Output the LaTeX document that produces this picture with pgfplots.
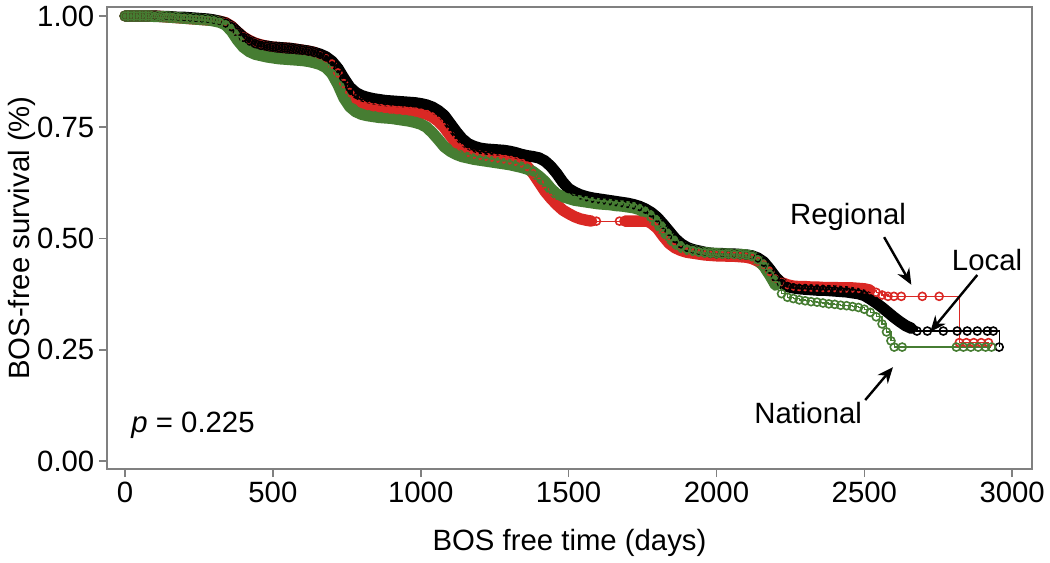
\documentclass[border=0pt]{standalone}
\usepackage{pgfplots}
\pgfplotsset{compat=1.18}
\usepackage{pgfplotstable}
\usetikzlibrary{arrows.meta}
\usepackage{fontspec}
\setmainfont{Liberation Sans}
\definecolor{kmred}{RGB}{218,40,36}
\definecolor{kmgreen}{RGB}{70,125,50}
\definecolor{axgray}{RGB}{128,128,128}

\pgfplotstableread[row sep=\\]{
x y\\
0 1.000\\ 20 1.000\\ 40 1.000\\ 60 1.000\\ 80 1.000\\ 100 1.000\\ 120 0.999\\ 140 0.999\\ 160 0.998\\ 180 0.997\\
200 0.997\\ 220 0.996\\ 240 0.995\\ 260 0.994\\ 280 0.993\\ 300 0.991\\ 320 0.988\\ 340 0.984\\ 360 0.976\\ 380 0.964\\
400 0.952\\ 420 0.944\\ 440 0.938\\ 460 0.934\\ 480 0.932\\ 500 0.930\\ 520 0.929\\ 540 0.928\\ 560 0.927\\ 580 0.925\\
600 0.923\\ 620 0.921\\ 640 0.918\\ 660 0.914\\ 680 0.908\\ 700 0.898\\ 720 0.882\\ 740 0.860\\ 760 0.840\\ 780 0.828\\
800 0.821\\ 820 0.817\\ 840 0.814\\ 860 0.812\\ 880 0.810\\ 900 0.809\\ 920 0.808\\ 940 0.807\\ 960 0.806\\ 980 0.805\\
1000 0.803\\ 1020 0.800\\ 1040 0.795\\ 1060 0.787\\ 1080 0.776\\ 1100 0.758\\ 1120 0.740\\ 1140 0.724\\ 1160 0.713\\ 1180 0.707\\
1200 0.703\\ 1220 0.701\\ 1240 0.700\\ 1260 0.699\\ 1280 0.698\\ 1300 0.696\\ 1320 0.693\\ 1340 0.689\\ 1360 0.686\\ 1380 0.684\\
1400 0.681\\ 1420 0.674\\ 1440 0.662\\ 1460 0.646\\ 1480 0.627\\ 1500 0.612\\ 1520 0.604\\ 1540 0.598\\ 1560 0.594\\ 1580 0.591\\
1600 0.589\\ 1620 0.587\\ 1640 0.585\\ 1660 0.583\\ 1680 0.581\\ 1700 0.579\\ 1720 0.576\\ 1740 0.572\\ 1760 0.566\\ 1780 0.558\\
1800 0.547\\ 1820 0.532\\ 1840 0.516\\ 1860 0.500\\ 1880 0.488\\ 1900 0.480\\ 1920 0.475\\ 1940 0.472\\ 1960 0.469\\ 1980 0.467\\
2000 0.466\\ 2020 0.466\\ 2040 0.465\\ 2060 0.465\\ 2080 0.464\\ 2100 0.463\\ 2120 0.461\\ 2140 0.456\\ 2160 0.447\\ 2180 0.431\\
2200 0.413\\ 2220 0.399\\ 2240 0.392\\ 2260 0.389\\ 2280 0.387\\ 2300 0.386\\ 2320 0.385\\ 2340 0.384\\ 2360 0.384\\ 2380 0.383\\
2400 0.382\\ 2420 0.381\\ 2440 0.380\\ 2460 0.378\\ 2480 0.376\\ 2500 0.372\\ 2520 0.364\\ 2540 0.355\\ 2560 0.345\\ 2580 0.334\\
2600 0.323\\ 2620 0.313\\ 2640 0.304\\ 2660 0.298\\ 2678 0.292\\ 2713 0.292\\ 2767 0.292\\ 2814 0.292\\ 2848 0.292\\ 2882 0.292\\
2916 0.292\\ 2936 0.292\\ 2956 0.256\\
}\localdata

\pgfplotstableread[row sep=\\]{
x y\\
0 1.000\\ 20 1.000\\ 40 1.000\\ 60 1.000\\ 80 1.000\\ 100 1.000\\ 120 0.999\\ 140 0.998\\ 160 0.997\\ 180 0.996\\
200 0.995\\ 220 0.994\\ 240 0.993\\ 260 0.992\\ 280 0.991\\ 300 0.990\\ 320 0.988\\ 340 0.985\\ 360 0.977\\ 380 0.964\\
400 0.953\\ 420 0.945\\ 440 0.939\\ 460 0.935\\ 480 0.932\\ 500 0.930\\ 520 0.929\\ 540 0.928\\ 560 0.927\\ 580 0.925\\
600 0.923\\ 620 0.921\\ 640 0.918\\ 660 0.913\\ 680 0.906\\ 700 0.892\\ 720 0.872\\ 740 0.848\\ 760 0.828\\ 780 0.813\\
800 0.804\\ 820 0.799\\ 840 0.796\\ 860 0.794\\ 880 0.792\\ 900 0.790\\ 920 0.789\\ 940 0.788\\ 960 0.787\\ 980 0.785\\
1000 0.782\\ 1020 0.779\\ 1040 0.773\\ 1060 0.763\\ 1080 0.749\\ 1100 0.731\\ 1120 0.713\\ 1140 0.701\\ 1160 0.694\\ 1180 0.690\\
1200 0.687\\ 1220 0.685\\ 1240 0.683\\ 1260 0.681\\ 1280 0.679\\ 1300 0.677\\ 1320 0.674\\ 1340 0.670\\ 1360 0.662\\ 1380 0.646\\
1400 0.626\\ 1420 0.606\\ 1440 0.590\\ 1460 0.576\\ 1480 0.564\\ 1500 0.556\\ 1520 0.549\\ 1540 0.544\\ 1560 0.541\\ 1578 0.539\\
1594 0.539\\ 1672 0.539\\ 1690 0.539\\ 1705 0.539\\ 1720 0.539\\ 1735 0.539\\ 1750 0.539\\ 1765 0.539\\ 1780 0.534\\
1800 0.523\\ 1820 0.505\\ 1840 0.489\\ 1860 0.479\\ 1880 0.473\\ 1900 0.469\\ 1920 0.467\\ 1940 0.465\\ 1960 0.463\\ 1980 0.462\\
2000 0.461\\ 2020 0.461\\ 2040 0.460\\ 2060 0.460\\ 2080 0.459\\ 2100 0.458\\ 2120 0.455\\ 2140 0.449\\ 2160 0.440\\ 2180 0.426\\
2200 0.411\\ 2220 0.401\\ 2240 0.396\\ 2260 0.393\\ 2280 0.392\\ 2300 0.392\\ 2320 0.391\\ 2340 0.391\\ 2360 0.390\\ 2380 0.390\\
2400 0.390\\ 2420 0.389\\ 2440 0.389\\ 2460 0.389\\ 2480 0.388\\ 2500 0.387\\ 2520 0.384\\ 2540 0.379\\ 2560 0.373\\ 2580 0.370\\
2600 0.370\\ 2625 0.370\\ 2696 0.370\\ 2753 0.370\\ 2821 0.266\\ 2845 0.266\\ 2870 0.266\\ 2895 0.266\\ 2920 0.266\\
}\regionaldata

\pgfplotstableread[row sep=\\]{
x y\\
0 1.000\\ 20 1.000\\ 40 1.000\\ 60 1.000\\ 80 1.000\\ 100 0.999\\ 120 0.999\\ 140 0.998\\ 160 0.997\\ 180 0.996\\
200 0.995\\ 220 0.994\\ 240 0.993\\ 260 0.992\\ 280 0.991\\ 300 0.989\\ 320 0.986\\ 340 0.980\\ 360 0.966\\ 380 0.946\\
400 0.930\\ 420 0.920\\ 440 0.914\\ 460 0.911\\ 480 0.908\\ 500 0.906\\ 520 0.904\\ 540 0.903\\ 560 0.902\\ 580 0.901\\
600 0.900\\ 620 0.898\\ 640 0.895\\ 660 0.891\\ 680 0.884\\ 700 0.870\\ 720 0.846\\ 740 0.816\\ 760 0.796\\ 780 0.785\\
800 0.779\\ 820 0.776\\ 840 0.774\\ 860 0.772\\ 880 0.771\\ 900 0.770\\ 920 0.768\\ 940 0.766\\ 960 0.764\\ 980 0.761\\
1000 0.757\\ 1020 0.750\\ 1040 0.737\\ 1060 0.722\\ 1080 0.706\\ 1100 0.696\\ 1120 0.689\\ 1140 0.684\\ 1160 0.681\\ 1180 0.678\\
1200 0.676\\ 1220 0.674\\ 1240 0.672\\ 1260 0.670\\ 1280 0.668\\ 1300 0.666\\ 1320 0.663\\ 1340 0.660\\ 1360 0.656\\ 1380 0.650\\
1400 0.640\\ 1420 0.628\\ 1440 0.612\\ 1460 0.600\\ 1480 0.594\\ 1500 0.590\\ 1520 0.586\\ 1540 0.584\\ 1560 0.582\\ 1580 0.580\\
1600 0.578\\ 1620 0.577\\ 1640 0.576\\ 1660 0.574\\ 1680 0.573\\ 1700 0.571\\ 1720 0.569\\ 1740 0.565\\ 1760 0.558\\ 1780 0.548\\
1800 0.535\\ 1820 0.518\\ 1840 0.503\\ 1860 0.490\\ 1880 0.481\\ 1900 0.476\\ 1920 0.473\\ 1940 0.470\\ 1960 0.468\\ 1980 0.467\\
2000 0.466\\ 2020 0.465\\ 2040 0.465\\ 2060 0.464\\ 2080 0.464\\ 2100 0.463\\ 2120 0.460\\ 2140 0.452\\ 2160 0.438\\ 2180 0.418\\
2200 0.395\\ 2220 0.376\\ 2240 0.368\\ 2260 0.365\\ 2280 0.362\\ 2300 0.360\\ 2320 0.358\\ 2340 0.357\\ 2360 0.355\\ 2380 0.353\\
2400 0.352\\ 2420 0.350\\ 2440 0.349\\ 2460 0.347\\ 2480 0.345\\ 2500 0.341\\ 2520 0.334\\ 2540 0.324\\ 2560 0.308\\ 2575 0.290\\
2590 0.270\\ 2601 0.256\\ 2628 0.256\\ 2811 0.256\\ 2835 0.256\\ 2860 0.256\\ 2885 0.256\\ 2910 0.256\\ 2930 0.256\\
}\nationaldata

\begin{document}
\begin{tikzpicture}
\useasboundingbox (-80.25pt,-69.75pt) rectangle (707.25pt,351.75pt);
\begin{axis}[
  scale only axis, width=693.75pt, height=346.5pt,
  xmin=-61, xmax=3067, ymin=-0.018, ymax=1.0202,
  xtick={0,500,1000,1500,2000,2500,3000},
  ytick={0,0.25,0.5,0.75,1},
  yticklabel style={/pgf/number format/.cd, fixed, fixed zerofill, precision=2},
  xticklabel style={/pgf/number format/1000 sep={}},
  /pgf/number format/assume math mode=true,
  tick align=outside, major tick length=6pt, tick pos=left,
  axis line style={draw=axgray, line width=1.5pt},
  tick style={draw=axgray, line width=1.2pt},
  ticklabel style={font=\fontsize{22}{26}\selectfont},
  every axis x label/.style={at={(axis description cs:0.5,-0.16)}, anchor=center},
  every axis y label/.style={at={(axis description cs:-0.092,0.5)}, rotate=90, anchor=center},
  label style={font=\fontsize{22}{26}\selectfont},
  xlabel={BOS free time (days)},
  ylabel={BOS-free survival (\%)},
]
% Regional (red)
\addplot[kmred, line width=8.5pt, line cap=round, line join=round, no marks, restrict x to domain=0:1585] table {\regionaldata};
\addplot[kmred, line width=8.5pt, line cap=round, line join=round, no marks, restrict x to domain=1680:2520] table {\regionaldata};
\addplot[kmred, line width=0.9pt, const plot, mark=o, mark size=3pt, mark options={line width=1.2pt, solid}] table {\regionaldata};
% Local (black)
\addplot[black, line width=8.5pt, line cap=round, line join=round, no marks, restrict x to domain=0:2665] table {\localdata};
\addplot[black, line width=0.9pt, const plot, mark=o, mark size=3pt, mark options={line width=1.2pt, solid}] table {\localdata};
% National (green)
\addplot[kmgreen, line width=8.5pt, line cap=round, line join=round, no marks, restrict x to domain=0:2215] table {\nationaldata};
\addplot[kmgreen, line width=0.9pt, const plot, mark=o, mark size=3pt, mark options={line width=1.2pt, solid}] table {\nationaldata};

\node[font=\fontsize{22}{26}\selectfont, inner sep=0pt] at (axis cs:230,0.081) {\textit{p} = 0.225};
\node[font=\fontsize{22}{26}\selectfont, inner sep=0pt] at (axis cs:2445,0.548) {Regional};
\node[font=\fontsize{22}{26}\selectfont, inner sep=0pt] at (axis cs:2915,0.452) {Local};
\node[font=\fontsize{22}{26}\selectfont, inner sep=0pt] at (axis cs:2310,0.108) {National};
\draw[-{Stealth[length=12pt,width=10pt]}, line width=1.8pt] (axis cs:2567,0.503) -- (axis cs:2659,0.396);
\draw[-{Stealth[length=12pt,width=10pt]}, line width=1.8pt] (axis cs:2882,0.418) -- (axis cs:2723,0.290);
\draw[-{Stealth[length=12pt,width=10pt]}, line width=1.8pt] (axis cs:2503,0.137) -- (axis cs:2597,0.211);
\end{axis}
\end{tikzpicture}
\end{document}
